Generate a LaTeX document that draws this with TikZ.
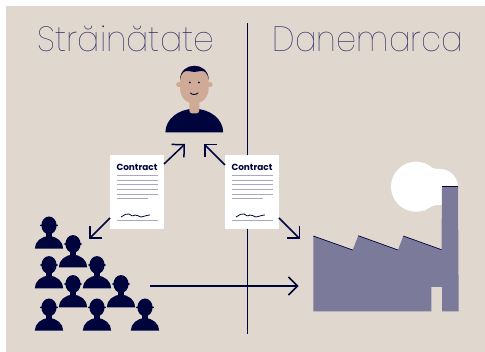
\documentclass[tikz,border=0pt]{standalone}
\usepackage{fontspec}
\setmainfont{Poppins}
\newfontfamily\thinfont{Poppins}[UprightFont=* Thin]
\newfontfamily\boldfont{Poppins}[UprightFont=* Bold]
\usetikzlibrary{arrows.meta}
\definecolor{bg}{HTML}{E0D8CF}
\definecolor{navy}{HTML}{00043C}
\definecolor{plant}{HTML}{7B7A9A}
\definecolor{skin}{HTML}{CFAB97}
\definecolor{rule}{HTML}{A9A8C0}
\definecolor{titlec}{HTML}{23265C}
\tikzset{
 flow/.style={draw=navy,line width=1.5pt,-{Straight Barb[length=9pt,width=18pt,line width=1.5pt]}},
 titletext/.style={font=\thinfont\fontsize{35}{35}\selectfont,text=titlec,inner sep=0pt,anchor=base},
 docbox/.style={fill=white,minimum width=54pt,minimum height=74pt,inner sep=0pt},
 doclabel/.style={font=\boldfont\fontsize{8.9}{10}\selectfont,text=navy,inner sep=0pt,anchor=base},
 docrule/.style={draw=rule,line width=1pt},
 crowdperson/.pic={
  \fill[navy] (-14.2,0) arc[start angle=180,end angle=360,x radius=14.2,y radius=12.5] -- cycle;
  \fill[navy] (-3,-16) rectangle (3,-10);
  \fill[navy] (0,-23.3) ellipse[x radius=7.6,y radius=8.9];
  \fill[navy] (-7.8,-23.3) circle[radius=1.1] (7.8,-23.3) circle[radius=1.1];
 },
 doccontent/.pic={
  \foreach \yy in {-16.7,-11.7,-7,-2.3,2.3}{\draw[docrule] (-20.5,\yy) -- (20.5,\yy);}
  \draw[docrule] (-20.5,7) -- (11,7);
  \draw[docrule] (-20.5,28.7) -- (20.5,28.7);
  \draw[navy,line width=0.8pt] (-16,25) .. controls (-12,23) and (-11,21) .. (-8,22) .. controls (-6,23) and (-5,25) .. (-2,23) .. controls (0,22) and (1,25) .. (4,25) .. controls (7,25) and (9,23) .. (13,23);
 }
}
\begin{document}
\begin{tikzpicture}[x=1pt,y=-1pt]
\useasboundingbox (0,0) rectangle (485,352);
\fill[bg] (6,6) rectangle (485,352);
\coordinate (divtop) at (247.5,23);
\coordinate (divbot) at (247.5,334);
\draw[navy,line width=0.9pt] (divtop) -- (divbot);
\node[titletext,xscale=.945] (tleft) at (126,52) {Străinătate};
\node[titletext,xscale=.917] (tright) at (368,52) {Danemarca};
% cloud
\fill[white] (416,186.7) circle[radius=25] (440,187) circle[radius=18];
\fill[white] (424,163) .. controls (430,168) and (434,169) .. (440,169) -- (440,205) .. controls (434,205) and (430,206) .. (424,211) -- cycle;
% factory
\fill[plant] (313.3,236) -- (352.7,250) -- (358.3,235.7) -- (398,250) -- (403.3,236) -- (441.5,249.7) -- (442,186.7) -- (458,186.7) -- (458.7,311.3) -- (442,311.3) -- (442,287) -- (431.3,287) -- (431.3,311.3) -- (313.3,311.3) -- cycle;
\draw[navy,line width=0.7pt] (313.3,236) -- (352.7,250) (358.3,235.7) -- (398,250) (403.3,236) -- (441.5,249.7);
\draw[navy,line width=1.6pt] (442,186.7) -- (458,186.7);
% person
\fill[navy] (165.4,132.3) arc[start angle=180,end angle=360,x radius=28.9,y radius=23.5] -- cycle;
\fill[skin,rounded corners=3pt] (189.3,98) rectangle (199.3,113.5);
\fill[skin] (178.8,84.5) circle[radius=2.6] (210,84.5) circle[radius=2.6];
\fill[skin] (180,80) .. controls (180,61) and (208.7,61) .. (208.7,80) -- (208.7,88) .. controls (208.7,98) and (202,103.5) .. (194.3,103.5) .. controls (186.6,103.5) and (180,98) .. (180,88) -- cycle;
\fill[navy] (180,80) .. controls (180,61) and (208.7,61) .. (208.7,80) .. controls (207.5,72) and (204,70.5) .. (201,71) -- (194.3,72) -- (188,71) .. controls (185,70.5) and (181.2,72) .. (180,80) -- cycle;
\fill[navy] (189.8,82.5) circle[radius=1] (198.8,82.5) circle[radius=1];
\draw[navy,line width=0.9pt,line cap=round] (190.5,93) .. controls (192,95) and (196,95) .. (198,93);
\coordinate (persL) at (185,144);
\coordinate (persR) at (204,144);
% contracts
\node[docbox] (c1) at (137,192) {};
\node[docbox] (c2) at (252,192) {};
\node[doclabel] (c1t) at (137,170.5) {Contract};
\node[doclabel] (c2t) at (252,170.5) {Contract};
\pic at (137,192) {doccontent};
\pic at (252,192) {doccontent};
% crowd
\foreach \px/\py in {49/248.7,73/267.3,49/288.3,97/288.3,73/307.3,121/307.3,49/330.7,97/330.7,145/330.7}{\pic at (\px,\py) {crowdperson};}
% connectors
\coordinate (c1up) at (164,164);
\coordinate (c2up) at (225,165);
\coordinate (c1dn) at (110,218);
\coordinate (c2dn) at (279,218);
\coordinate (crowdL) at (89,239);
\coordinate (factL) at (300,239);
\coordinate (flowS) at (150,286);
\coordinate (flowE) at (298.5,286);
\draw[flow] (c1up) -- (persL);
\draw[flow] (c2up) -- (persR);
\draw[flow] (c1dn) -- (crowdL);
\draw[flow] (c2dn) -- (factL);
\draw[flow] (flowS) -- (flowE);
\end{tikzpicture}
\end{document}
